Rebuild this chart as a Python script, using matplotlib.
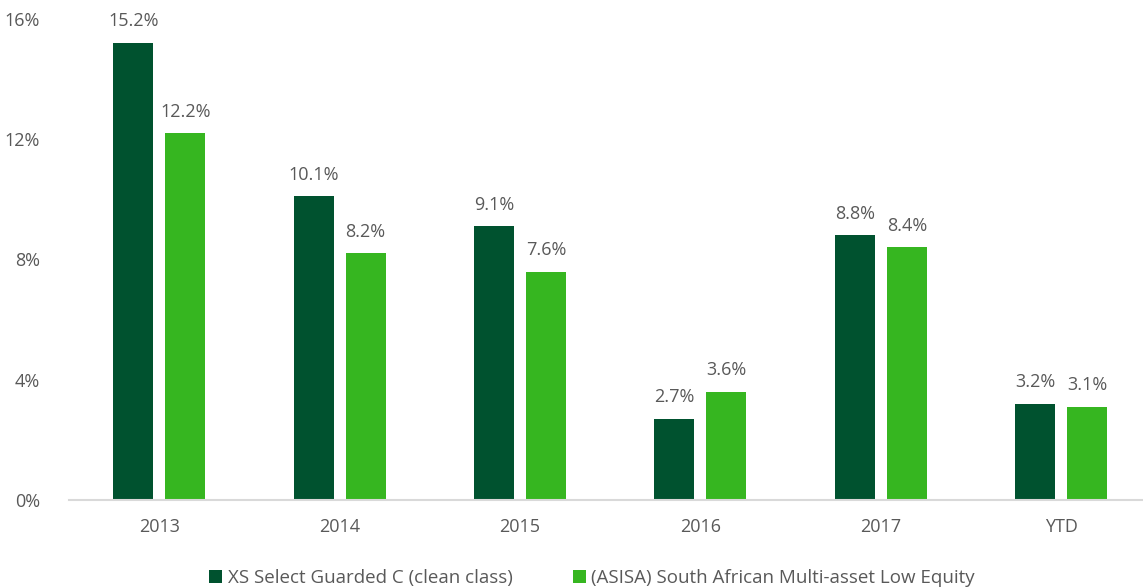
import matplotlib
matplotlib.use("Agg")
import matplotlib.pyplot as plt
import numpy as np

categories = ["2013", "2014", "2015", "2016", "2017", "YTD"]
fund = [15.2, 10.1, 9.1, 2.7, 8.8, 3.2]
sector = [12.2, 8.2, 7.6, 3.6, 8.4, 3.1]
series_names = ["XS Select Guarded C (clean class)", "(ASISA) South African Multi-asset Low Equity"]
yticks = [0, 4, 8, 12, 16]

plt.rcParams['font.family'] = ['Open Sans', 'DejaVu Sans']
txt = '#595959'
c1, c2 = '#00522F', '#36B620'

fig = plt.figure(figsize=(11.43, 5.88), dpi=100)
ax = fig.add_axes([69/1143, 88/588, 1074/1143, 481/588])
x = np.arange(len(categories))
w = 0.222
off = 0.144
b1 = ax.bar(x - off, fund, w, color=c1, label=series_names[0])
b2 = ax.bar(x + off, sector, w, color=c2, label=series_names[1])
for bars, vals in ((b1, fund), (b2, sector)):
    for b, v in zip(bars, vals):
        ax.text(b.get_x() + b.get_width()/2, v + 0.42, f"{v:.1f}%", ha='center', va='bottom',
                fontsize=13, color=txt)
ax.set_xlim(-0.5, -0.5 + 1074/180.4)
ax.set_ylim(0, 16)
ax.set_yticks(yticks)
ax.set_yticklabels([f"{t}%" for t in yticks])
ax.set_xticks(x)
ax.set_xticklabels(categories)
ax.tick_params(axis='both', length=0, labelsize=13, colors=txt)
ax.tick_params(axis='x', pad=13)
ax.tick_params(axis='y', pad=21)
for s in ['top', 'right', 'left']:
    ax.spines[s].set_visible(False)
ax.spines['bottom'].set_color('#D9D9D9')
ax.spines['bottom'].set_linewidth(1.5)
leg = fig.legend(handles=[b1, b2], loc='center', bbox_to_anchor=(0.518, 0.017), ncol=2,
                 frameon=False, fontsize=13.5, handlelength=0.7, handleheight=0.7,
                 handletextpad=0.3, columnspacing=3.2)
for t in leg.get_texts():
    t.set_color(txt)
fig.savefig("out.png", dpi=100)
